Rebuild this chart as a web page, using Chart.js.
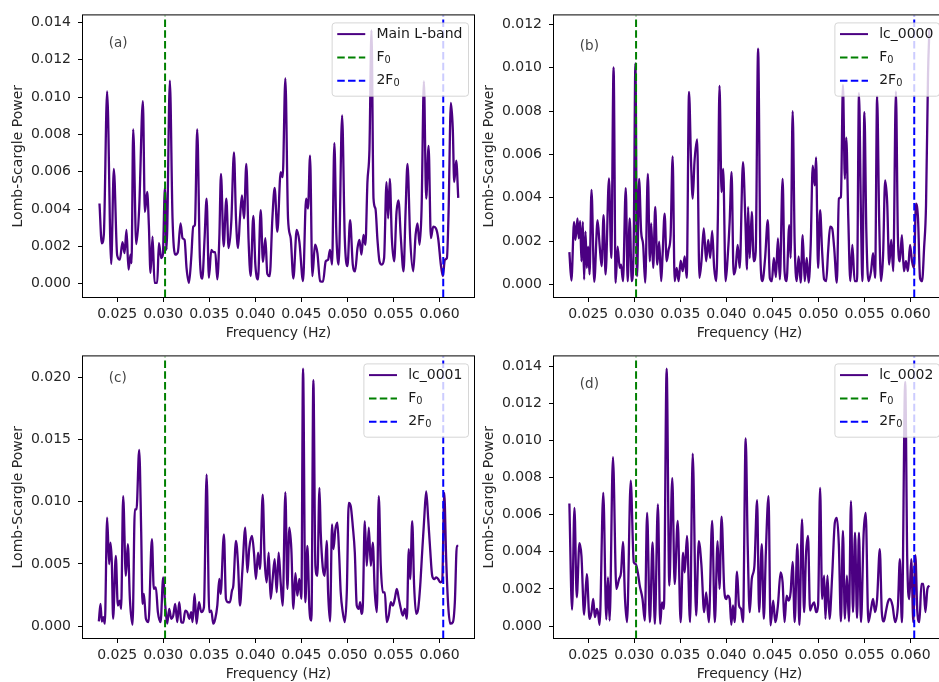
<!DOCTYPE html>
<html lang="en">
<head>
<meta charset="UTF-8">
<title>Lomb-Scargle periodograms</title>
<script src="https://cdn.jsdelivr.net/npm/chart.js"></script>
<style>
  html, body { margin: 0; padding: 0; background: #fff; }
  #fig { position: relative; width: 939px; height: 682px; overflow: hidden; background: #fff; }
  .panel { position: absolute; width: 480px; height: 345px; }
  .panel canvas { display: block; }
</style>
</head>
<body>
<div id="fig">
  <div class="panel" style="left:0px;top:0px"><canvas id="pa" width="480" height="345"></canvas></div>
  <div class="panel" style="left:471px;top:0px"><canvas id="pb" width="480" height="345"></canvas></div>
  <div class="panel" style="left:0px;top:341px"><canvas id="pc" width="480" height="345"></canvas></div>
  <div class="panel" style="left:471px;top:341px"><canvas id="pd" width="480" height="345"></canvas></div>
</div>
<script>
// reference frequencies (Hz)
const F0 = 0.0302;
const F0x2 = 0.0604;

const xTicks = [0.025, 0.030, 0.035, 0.040, 0.045, 0.050, 0.055, 0.060];
const yTicksA = [0, 0.002, 0.004, 0.006, 0.008, 0.010, 0.012, 0.014];
const yTicksB = [0, 0.002, 0.004, 0.006, 0.008, 0.010, 0.012];
const yTicksC = [0, 0.005, 0.010, 0.015, 0.020];
const yTicksD = [0, 0.002, 0.004, 0.006, 0.008, 0.010, 0.012, 0.014];

const seriesLabels = ['Main L-band', 'lc_0000', 'lc_0001', 'lc_0002'];
const panelTags = ['(a)', '(b)', '(c)', '(d)'];

// (a) Main L-band
const freqA = [0.02308,0.02333,0.02355,0.02391,0.02435,0.02464,0.02500,0.02529,0.02558,0.02580,
  0.02601,0.02623,0.02645,0.02656,0.02674,0.02707,0.02739,0.02779,0.02801,0.02826,
  0.02844,0.02862,0.02884,0.02906,0.02935,0.02953,0.02978,0.02996,0.03018,0.03036,
  0.03072,0.03101,0.03130,0.03159,0.03188,0.03210,0.03232,0.03253,0.03279,0.03304,
  0.03326,0.03344,0.03369,0.03398,0.03424,0.03449,0.03471,0.03496,0.03522,0.03543,
  0.03565,0.03587,0.03609,0.03627,0.03656,0.03685,0.03710,0.03739,0.03768,0.03790,
  0.03812,0.03833,0.03855,0.03877,0.03902,0.03927,0.03949,0.03978,0.04000,0.04029,
  0.04058,0.04083,0.04109,0.04130,0.04156,0.04185,0.04210,0.04239,0.04275,0.04297,
  0.04326,0.04355,0.04384,0.04413,0.04449,0.04478,0.04518,0.04551,0.04572,0.04594,
  0.04619,0.04648,0.04674,0.04703,0.04735,0.04764,0.04790,0.04811,0.04833,0.04858,
  0.04880,0.04905,0.04942,0.04971,0.05000,0.05029,0.05058,0.05083,0.05109,0.05130,
  0.05152,0.05174,0.05195,0.05217,0.05239,0.05261,0.05283,0.05304,0.05326,0.05348,
  0.05373,0.05398,0.05424,0.05442,0.05460,0.05482,0.05507,0.05533,0.05554,0.05580,
  0.05609,0.05631,0.05652,0.05681,0.05714,0.05740,0.05761,0.05783,0.05805,0.05830,
  0.05855,0.05881,0.05906,0.05931,0.05960,0.05985,0.06014,0.06036,0.06058,0.06080,
  0.06098,0.06123,0.06144,0.06159,0.06181,0.06203];
const powerA = [0.00430,0.00217,0.00262,0.01031,0.00106,0.00615,0.00152,0.00129,0.00223,0.00164,
  0.00288,0.00076,0.00156,0.00111,0.00827,0.00212,0.00403,0.00978,0.00385,0.00492,
  0.00315,0.00058,0.00253,0.00005,0.00005,0.00217,0.00138,0.00156,0.00513,0.00182,
  0.01089,0.00350,0.00156,0.00170,0.00324,0.00244,0.00235,0.00085,0.00005,0.00138,
  0.00306,0.00315,0.00827,0.00138,0.00028,0.00244,0.00456,0.00032,0.00182,0.00170,
  0.00170,0.00023,0.00244,0.00589,0.00200,0.00456,0.00191,0.00332,0.00704,0.00350,
  0.00191,0.00350,0.00474,0.00350,0.00642,0.00226,0.00041,0.00364,0.00103,0.00023,
  0.00394,0.00117,0.00244,0.00053,0.00041,0.00350,0.00513,0.00279,0.00598,0.00571,
  0.01101,0.00350,0.00244,0.00028,0.00288,0.00226,0.00014,0.00456,0.00403,0.00686,
  0.00041,0.00209,0.00164,0.00014,0.00011,0.00120,0.00129,0.00182,0.00103,0.00753,
  0.00262,0.00103,0.00902,0.00244,0.00094,0.00341,0.00103,0.00067,0.00191,0.00235,
  0.00156,0.00262,0.00209,0.00545,0.00721,0.01358,0.00456,0.00403,0.00235,0.00120,
  0.00103,0.00138,0.00545,0.00350,0.00562,0.00244,0.00120,0.00385,0.00447,0.00244,
  0.00067,0.00385,0.00642,0.00244,0.00067,0.00262,0.00324,0.00209,0.00403,0.01084,
  0.00456,0.00739,0.00244,0.00306,0.00297,0.00244,0.00103,0.00041,0.00129,0.00138,
  0.00385,0.00969,0.00827,0.00545,0.00659,0.00460];

// (b) lc_0000
const freqB = [0.02296,0.02318,0.02347,0.02362,0.02384,0.02398,0.02413,0.02427,0.02442,0.02456,
  0.02471,0.02485,0.02500,0.02515,0.02536,0.02566,0.02602,0.02624,0.02646,0.02667,
  0.02689,0.02726,0.02751,0.02776,0.02798,0.02820,0.02842,0.02857,0.02878,0.02908,
  0.02929,0.02951,0.02973,0.02995,0.03013,0.03031,0.03053,0.03075,0.03097,0.03119,
  0.03148,0.03170,0.03184,0.03206,0.03228,0.03250,0.03271,0.03293,0.03308,0.03330,
  0.03352,0.03373,0.03395,0.03417,0.03439,0.03461,0.03482,0.03504,0.03526,0.03548,
  0.03570,0.03595,0.03617,0.03635,0.03654,0.03683,0.03708,0.03730,0.03755,0.03781,
  0.03803,0.03825,0.03846,0.03868,0.03890,0.03908,0.03926,0.03948,0.03966,0.03992,
  0.04014,0.04036,0.04057,0.04079,0.04101,0.04123,0.04145,
  0.04181,0.04206,0.04225,0.04236,0.04254,0.04276,0.04298,0.04319,0.04345,0.04370,
  0.04392,0.04421,0.04450,0.04472,0.04494,0.04516,0.04538,0.04560,0.04581,0.04611,
  0.04632,0.04654,0.04683,0.04698,0.04720,0.04742,0.04764,0.04785,0.04807,0.04829,
  0.04851,0.04873,0.04894,0.04916,0.04938,0.04960,0.04974,0.04996,0.05018,0.05040,
  0.05062,0.05084,0.05105,0.05127,0.05149,0.05171,0.05200,0.05222,0.05244,0.05266,
  0.05287,0.05302,0.05324,0.05346,0.05368,0.05393,0.05419,0.05440,0.05462,0.05477,
  0.05499,0.05520,0.05542,0.05571,0.05593,0.05615,0.05637,0.05659,0.05680,0.05702,
  0.05724,0.05746,0.05768,0.05790,0.05812,0.05841,0.05863,0.05884,0.05906,0.05928,
  0.05950,0.05972,0.05994,0.06016,0.06037,0.06059,0.06081,0.06103,0.06125,0.06147,
  0.06168,0.06190,0.06205];
const powerB = [0.00149,0.00018,0.00289,0.00206,0.00305,0.00213,0.00292,0.00107,0.00289,0.00023,
  0.00244,0.00076,0.00175,0.00046,0.00437,0.00012,0.00297,0.00183,0.00084,0.00320,
  0.00046,0.00490,0.00122,0.01002,0.00008,0.00175,0.00076,0.00091,0.00015,0.00445,
  0.00015,0.00305,0.00015,0.00213,0.01020,0.00038,0.00487,0.00244,0.00183,0.00008,
  0.00510,0.00107,0.00282,0.00076,0.00358,0.00091,0.00198,0.00015,0.00137,0.00327,
  0.00107,0.00160,0.00228,0.00591,0.00015,0.00076,0.00015,0.00110,0.00061,0.00129,
  0.00030,0.00889,0.00564,0.00396,0.00564,0.00670,0.00030,0.00107,0.00259,0.00107,
  0.00206,0.00122,0.00247,0.00076,0.00015,0.00305,0.00917,0.00426,0.00533,0.00015,
  0.00122,0.00289,0.00518,0.00046,0.00076,0.00183,0.00076,
  0.00564,0.00305,0.00069,0.00358,0.00122,0.00335,0.00107,0.00152,0.01089,0.00129,
  0.00015,0.00122,0.00297,0.00030,0.00015,0.00122,0.00034,0.00213,0.00023,0.00487,
  0.00061,0.00015,0.00274,0.00122,0.00800,0.00190,0.00015,0.00129,0.00008,0.00228,
  0.00015,0.00122,0.00008,0.00183,0.00548,0.00457,0.00586,0.00076,0.00343,0.00152,
  0.00023,0.00015,0.00152,0.00267,0.00259,0.00168,0.00008,0.00396,0.00404,0.00921,
  0.00487,0.00678,0.00305,0.00015,0.00183,0.00015,0.00015,0.00883,0.00305,0.00015,
  0.00795,0.00244,0.00015,0.00061,0.00145,0.00030,0.00868,0.00305,0.00015,0.00137,
  0.00480,0.00381,0.00091,0.00206,0.00061,0.00891,0.00213,0.00107,0.00228,0.00061,
  0.00107,0.00061,0.00183,0.00107,0.00076,0.00373,0.00305,0.00030,0.00015,0.00168,
  0.00366,0.00975,0.01180];

// (c) lc_0001
const freqC = [0.02301,0.02319,0.02333,0.02348,0.02366,0.02391,0.02413,0.02427,0.02442,0.02456,
  0.02485,0.02507,0.02529,0.02543,0.02565,0.02594,0.02616,0.02638,0.02667,0.02692,
  0.02710,0.02739,0.02761,0.02775,0.02790,0.02812,0.02840,0.02877,0.02898,0.02920,
  0.02942,0.02971,0.03000,0.03022,0.03043,0.03065,0.03087,0.03109,0.03130,0.03152,
  0.03174,0.03196,0.03217,0.03239,0.03261,0.03283,0.03304,0.03319,0.03340,0.03362,
  0.03388,0.03413,0.03442,0.03471,0.03500,0.03522,0.03543,0.03565,0.03587,0.03609,
  0.03623,0.03659,0.03681,0.03703,0.03725,0.03746,0.03761,0.03790,0.03812,0.03833,
  0.03859,0.03891,0.03913,0.03935,0.03964,0.03985,0.04007,0.04029,0.04051,0.04080,
  0.04101,0.04123,0.04145,0.04166,
  0.04188,0.04210,0.04232,0.04253,0.04275,0.04297,0.04326,0.04348,0.04369,0.04391,
  0.04413,0.04435,0.04456,0.04478,0.04500,0.04518,0.04543,0.04565,0.04587,0.04609,
  0.04630,0.04652,0.04674,0.04696,0.04710,0.04732,0.04753,0.04775,0.04790,0.04811,
  0.04833,0.04848,0.04869,0.04891,0.04909,0.04927,0.04949,0.04971,0.04993,0.05014,
  0.05036,0.05058,0.05080,0.05101,0.05123,0.05138,0.05152,0.05167,0.05188,0.05210,
  0.05232,0.05254,0.05275,0.05297,0.05319,0.05340,0.05362,0.05384,0.05406,0.05427,
  0.05449,0.05471,0.05492,0.05514,0.05536,0.05558,0.05580,0.05601,0.05623,0.05645,
  0.05666,0.05681,0.05703,0.05724,0.05746,0.05768,0.05790,0.05811,0.05833,0.05855,
  0.05877,0.05898,0.05920,0.05942,0.05964,0.05985,0.06007,0.06029,0.06051,0.06072,
  0.06094,0.06116,0.06145,0.06166,0.06188,0.06203];
const powerC = [0.00037,0.00179,0.00037,0.00072,0.00019,0.00872,0.00499,0.00672,0.00512,0.00059,
  0.00565,0.00165,0.00205,0.00139,0.01045,0.00405,0.00659,0.00219,0.00011,0.00939,
  0.00939,0.01419,0.00752,0.00179,0.00259,0.00059,0.00032,0.00699,0.00299,0.00312,
  0.00112,0.00032,0.00392,0.00165,0.00019,0.00139,0.00059,0.00085,0.00179,0.00032,
  0.00192,0.00032,0.00027,0.00125,0.00112,0.00059,0.00112,0.00032,0.00259,0.00019,
  0.00192,0.00112,0.00152,0.01219,0.00112,0.00125,0.00019,0.00059,0.00165,0.00379,
  0.00259,0.00739,0.00219,0.00192,0.00192,0.00285,0.00325,0.00685,0.00499,0.00165,
  0.00445,0.00792,0.00432,0.00632,0.00725,0.00592,0.00379,0.00592,0.00459,0.01059,
  0.00539,0.00352,0.00592,0.00219,
  0.00379,0.00539,0.00272,0.00592,0.00352,0.00165,0.01077,0.00299,0.00792,0.00619,
  0.00139,0.00427,0.00245,0.00379,0.00219,0.02072,0.00192,0.00645,0.00139,0.00045,
  0.01979,0.00485,0.00405,0.01112,0.00752,0.00472,0.00405,0.00685,0.00272,0.00037,
  0.00819,0.00619,0.00779,0.00832,0.00592,0.00272,0.00112,0.00032,0.00272,0.00992,
  0.00965,0.00805,0.00592,0.00165,0.00139,0.00192,0.00099,0.00165,0.00845,0.00485,
  0.00792,0.00485,0.00672,0.00272,0.00112,0.01045,0.00485,0.00272,0.00272,0.00032,
  0.00085,0.00192,0.00165,0.00219,0.00299,0.00219,0.00139,0.00085,0.00139,0.00059,
  0.00619,0.00379,0.00845,0.00325,0.00099,0.00139,0.00325,0.00592,0.00859,0.01085,
  0.00859,0.00619,0.00405,0.00379,0.00392,0.00379,0.00352,0.00365,0.01072,0.00539,
  0.00165,0.00019,0.00032,0.00192,0.00645,0.00645];

// (d) lc_0002
const freqD = [0.02296,0.02325,0.02351,0.02376,0.02405,0.02427,0.02456,0.02485,0.02515,0.02536,
  0.02555,0.02573,0.02595,0.02609,0.02624,0.02664,0.02697,0.02715,0.02733,0.02769,
  0.02806,0.02835,0.02857,0.02878,0.02900,0.02922,0.02962,0.02995,0.03017,0.03039,
  0.03060,0.03090,0.03115,0.03140,0.03170,0.03199,0.03224,0.03257,0.03282,0.03301,
  0.03322,0.03352,0.03381,0.03413,0.03439,0.03472,0.03504,0.03530,0.03548,0.03573,
  0.03606,0.03635,0.03672,0.03701,0.03730,0.03759,0.03781,0.03810,0.03846,0.03875,
  0.03905,0.03926,0.03948,0.03977,0.03999,0.04014,0.04036,0.04054,0.04072,0.04090,
  0.04116,0.04138,0.04159,0.04181,
  0.04210,0.04232,0.04254,0.04276,0.04305,0.04334,0.04356,0.04385,0.04407,0.04429,
  0.04458,0.04480,0.04509,0.04531,0.04560,0.04589,0.04611,0.04632,0.04654,0.04676,
  0.04698,0.04720,0.04742,0.04771,0.04793,0.04822,0.04844,0.04865,0.04887,0.04909,
  0.04931,0.04953,0.04975,0.04996,0.05018,0.05040,0.05062,0.05076,0.05098,0.05120,
  0.05149,0.05178,0.05200,0.05222,0.05244,0.05266,0.05287,0.05309,0.05331,0.05353,
  0.05375,0.05397,0.05419,0.05440,0.05462,0.05491,0.05513,0.05542,0.05571,0.05593,
  0.05615,0.05637,0.05666,0.05688,0.05710,0.05731,0.05753,0.05775,0.05804,0.05833,
  0.05863,0.05884,0.05906,0.05942,0.05964,0.05986,0.06008,0.06030,0.06052,0.06074,
  0.06096,0.06118,0.06139,0.06161,0.06183,0.06205];
const powerD = [0.00660,0.00089,0.00637,0.00155,0.00446,0.00378,0.00061,0.00280,0.00039,0.00075,
  0.00146,0.00048,0.00093,0.00066,0.00007,0.00717,0.00036,0.00262,0.00030,0.00910,
  0.00200,0.00253,0.00289,0.00453,0.00146,0.00021,0.00783,0.00343,0.00334,0.00289,
  0.00218,0.00146,0.00030,0.00610,0.00021,0.00450,0.00012,0.00655,0.00012,0.00128,
  0.00093,0.01386,0.00218,0.00797,0.00227,0.00566,0.00021,0.00396,0.00289,0.00485,
  0.00021,0.00928,0.00057,0.00458,0.00325,0.00075,0.00182,0.00021,0.00566,0.00021,
  0.00458,0.00200,0.00589,0.00200,0.00146,0.00164,0.00146,0.00007,0.00111,0.00021,
  0.00293,0.00111,0.00093,0.00021,
  0.01011,0.00432,0.00075,0.00253,0.00325,0.00678,0.00075,0.00441,0.00039,0.00396,
  0.00699,0.00004,0.00137,0.00021,0.00111,0.00289,0.00235,0.00021,0.00164,0.00137,
  0.00182,0.00346,0.00021,0.00441,0.00007,0.00574,0.00075,0.00387,0.00485,0.00084,
  0.00111,0.00128,0.00075,0.00111,0.00744,0.00146,0.00271,0.00039,0.00271,0.00039,
  0.00271,0.00557,0.00583,0.00432,0.00025,0.00512,0.00039,0.00271,0.00025,0.00673,
  0.00075,0.00503,0.00043,0.00503,0.00021,0.00503,0.00610,0.00021,0.00093,0.00146,
  0.00075,0.00146,0.00414,0.00075,0.00025,0.00075,0.00128,0.00146,0.00111,0.00021,
  0.00111,0.00360,0.00021,0.01315,0.00360,0.00146,0.00360,0.00021,0.00382,0.00075,
  0.00021,0.00227,0.00227,0.00075,0.00200,0.00218];

const FONT = '"DejaVu Sans", sans-serif';
const TXT = '#262626';
const X_MIN = 0.02129, X_MAX = 0.06374;

const SUBS = '₀₁₂₃₄₅₆₇₈₉';

// draw "F₀" style labels with a real lowered subscript
function labelParts(s) {
  return [...s].map(ch => {
    const k = SUBS.indexOf(ch);
    return k >= 0 ? { t: String(k), sub: true } : { t: ch, sub: false };
  });
}
function labelWidth(ctx, s, fs) {
  let w = 0;
  for (const p of labelParts(s)) {
    ctx.font = (p.sub ? fs * 0.7 : fs) + 'px ' + FONT;
    w += ctx.measureText(p.t).width;
  }
  return w;
}
function drawLabel(ctx, s, x, y, fs) {
  for (const p of labelParts(s)) {
    ctx.font = (p.sub ? fs * 0.7 : fs) + 'px ' + FONT;
    ctx.fillText(p.t, x, p.sub ? y + fs * 0.22 : y);
    x += ctx.measureText(p.t).width;
  }
}

// axes frame, panel tag and matplotlib-like legend
const axesDecor = {
  id: 'axesDecor',
  afterDatasetsDraw(chart) {
    const { ctx, chartArea: a } = chart;
    ctx.save();
    ctx.strokeStyle = '#000';
    ctx.lineWidth = 1;
    ctx.strokeRect(a.left - 0.5, a.top - 0.5, a.right - a.left + 1, a.bottom - a.top + 1);
    const o = chart.options.plugins.axesDecor;
    ctx.fillStyle = '#444';
    ctx.font = '13.5px ' + FONT;
    ctx.textBaseline = 'middle';
    ctx.fillText(o.tag, a.left + 0.066 * (a.right - a.left), a.top + o.tagY * (a.bottom - a.top));
    ctx.restore();
  },
  afterDraw(chart) {
    const { ctx, chartArea: a } = chart;
    const fs = 14, pad = 5.6, handle = 28, gap = 11.2, rowH = 23.3;
    const sets = chart.data.datasets;
    ctx.save();
    const tw = Math.max(...sets.map(d => labelWidth(ctx, d.label, fs)));
    const w = pad + handle + gap + tw + pad;
    const h = 73.3;
    const x0 = a.right - 6 - w, y0 = a.top + 7;
    ctx.beginPath();
    ctx.roundRect(x0 + 0.5, y0 + 0.5, w, h, 3);
    ctx.fillStyle = 'rgba(255,255,255,0.8)';
    ctx.fill();
    ctx.strokeStyle = 'rgba(204,204,204,0.8)';
    ctx.lineWidth = 1;
    ctx.stroke();
    sets.forEach((d, i) => {
      const cy = y0 + 11.7 + rowH * i;
      ctx.beginPath();
      ctx.setLineDash(d.borderDash || []);
      ctx.strokeStyle = d.borderColor;
      ctx.lineWidth = 2;
      ctx.moveTo(x0 + pad, cy);
      ctx.lineTo(x0 + pad + handle, cy);
      ctx.stroke();
      ctx.setLineDash([]);
      ctx.fillStyle = '#1a1a1a';
      ctx.textBaseline = 'middle';
      drawLabel(ctx, d.label, x0 + pad + handle + gap, cy, fs);
    });
    ctx.restore();
  }
};

function makePanel(id, freq, power, label, tag, tagY, yMin, yMax, yTicks) {
  const pts = freq.map((f, i) => ({ x: f, y: power[i] }));
  const vline = (f) => [{ x: f, y: yMin }, { x: f, y: yMax }];
  return new Chart(document.getElementById(id), {
    type: 'line',
    data: {
      datasets: [
        { label: label, data: pts, borderColor: '#4b0082', borderWidth: 2.3,
          pointRadius: 0, cubicInterpolationMode: 'monotone', borderJoinStyle: 'round', order: 2 },
        { label: 'F₀', data: vline(F0), borderColor: '#008000', borderWidth: 2,
          borderDash: [7.5, 3.3], pointRadius: 0, order: 1 },
        { label: '2F₀', data: vline(F0x2), borderColor: '#0000ff', borderWidth: 2,
          borderDash: [7.5, 3.3], pointRadius: 0, order: 1 }
      ]
    },
    options: {
      responsive: false,
      animation: false,
      events: [],
      layout: { padding: { top: 13, right: 6, bottom: 0, left: 0 } },
      plugins: {
        legend: { display: false },
        tooltip: { enabled: false },
        axesDecor: { tag: tag, tagY: tagY }
      },
      scales: {
        x: {
          type: 'linear', min: X_MIN, max: X_MAX,
          afterBuildTicks: s => { s.ticks = xTicks.map(v => ({ value: v })); },
          afterFit: s => { s.height = 48; },
          ticks: { callback: v => v.toFixed(3), font: { family: FONT, size: 14 }, color: TXT,
                   padding: 4, maxRotation: 0, autoSkip: false },
          grid: { drawOnChartArea: false, drawTicks: true, tickLength: 5, color: '#000', lineWidth: 1 },
          border: { display: false },
          title: { display: true, text: 'Frequency (Hz)', font: { family: FONT, size: 14 }, color: TXT,
                   padding: { top: 0, bottom: 3 } }
        },
        y: {
          type: 'linear', min: yMin, max: yMax,
          afterBuildTicks: s => { s.ticks = yTicks.map(v => ({ value: v })); },
          afterFit: s => { s.width = 83; },
          ticks: { callback: v => v.toFixed(3), font: { family: FONT, size: 14 }, color: TXT,
                   padding: 7, autoSkip: false },
          grid: { drawOnChartArea: false, drawTicks: true, tickLength: 5, color: '#000', lineWidth: 1 },
          border: { display: false },
          title: { display: true, text: 'Lomb-Scargle Power', font: { family: FONT, size: 14 }, color: TXT,
                   padding: { top: 10, bottom: 0 } }
        }
      }
    },
    plugins: [axesDecor]
  });
}

makePanel('pa', freqA, powerA, seriesLabels[0], panelTags[0], 0.10, -0.00071, 0.01438, yTicksA);
makePanel('pb', freqB, powerB, seriesLabels[1], panelTags[1], 0.11, -0.00058, 0.01242, yTicksB);
makePanel('pc', freqC, powerC, seriesLabels[2], panelTags[2], 0.08, -0.00096, 0.02171, yTicksC);
makePanel('pd', freqD, powerD, seriesLabels[3], panelTags[3], 0.10, -0.00064, 0.01452, yTicksD);
</script>
</body>
</html>
